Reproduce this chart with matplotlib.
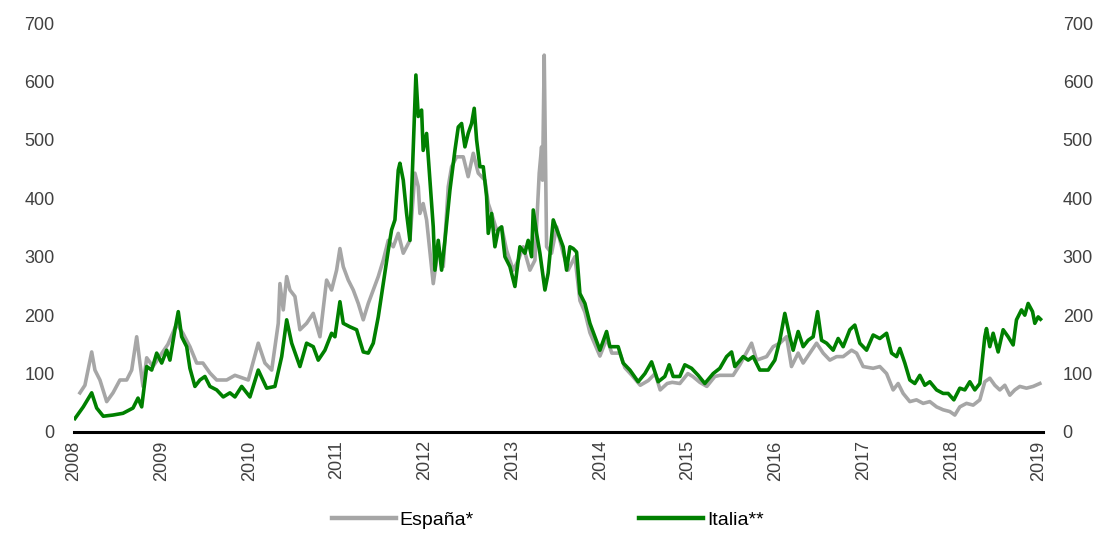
import matplotlib
matplotlib.use("Agg")
import matplotlib.pyplot as plt

# Spread data (bp); x in decimal years
espana_t = [2008.068, 2008.125, 2008.202, 2008.239, 2008.296, 2008.373, 2008.445, 2008.524,
            2008.601, 2008.658, 2008.715, 2008.752, 2008.787, 2008.829, 2008.900, 2008.980,
            2009.071, 2009.171, 2009.242, 2009.322, 2009.399, 2009.470, 2009.550, 2009.627,
            2009.741, 2009.835, 2009.987, 2010.101, 2010.177, 2010.254, 2010.329, 2010.348,
            2010.386, 2010.425, 2010.462, 2010.519, 2010.576, 2010.652, 2010.728, 2010.804,
            2010.880, 2010.937, 2010.994, 2011.032, 2011.070, 2011.127, 2011.184, 2011.241,
            2011.298, 2011.355, 2011.412, 2011.469, 2011.526, 2011.583, 2011.640, 2011.697,
            2011.754, 2011.830, 2011.887, 2011.925, 2011.944, 2011.981, 2012.020, 2012.096,
            2012.153, 2012.210, 2012.267, 2012.305, 2012.362, 2012.438, 2012.494, 2012.552,
            2012.609, 2012.685, 2012.723, 2012.761, 2012.818, 2012.875, 2012.932, 2013.008,
            2013.065, 2013.122, 2013.198, 2013.255, 2013.304, 2013.331, 2013.342, 2013.361,
            2013.388, 2013.445, 2013.502, 2013.577, 2013.634, 2013.711, 2013.768, 2013.825,
            2013.882, 2013.939, 2013.996, 2014.075, 2014.132, 2014.224, 2014.281, 2014.360,
            2014.456, 2014.547, 2014.626, 2014.683, 2014.763, 2014.820, 2014.907, 2014.998,
            2015.055, 2015.135, 2015.215, 2015.306, 2015.363, 2015.515, 2015.591, 2015.725,
            2015.782, 2015.896, 2015.971, 2016.047, 2016.124, 2016.180, 2016.256, 2016.313,
            2016.389, 2016.466, 2016.541, 2016.617, 2016.694, 2016.769, 2016.865, 2016.922,
            2016.997, 2017.111, 2017.187, 2017.264, 2017.339, 2017.396, 2017.453, 2017.529,
            2017.605, 2017.681, 2017.757, 2017.834, 2017.909, 2017.985, 2018.042, 2018.099,
            2018.175, 2018.251, 2018.327, 2018.384, 2018.441, 2018.498, 2018.555, 2018.612,
            2018.669, 2018.726, 2018.783, 2018.859, 2018.935, 2019.011]
espana_v = [67, 80, 137, 106, 89, 52, 67, 89,
            89, 106, 163, 118, 78, 127, 112, 130,
            150, 185, 169, 146, 118, 118, 101, 89,
            89, 97, 89, 152, 118, 106, 186, 254,
            209, 266, 243, 232, 175, 186, 203, 163,
            260, 243, 277, 314, 283, 260, 243, 220,
            192, 220, 243, 266, 294, 328, 317, 340,
            306, 328, 443, 420, 374, 391, 363, 254,
            317, 283, 420, 454, 471, 471, 437, 477,
            443, 431, 391, 374, 346, 351, 311, 277,
            294, 317, 277, 294, 443, 488, 431, 645,
            317, 306, 351, 306, 277, 300, 225, 205,
            170, 150, 130, 160, 135, 135, 110, 97,
            80, 88, 100, 72, 83, 85, 83, 100,
            95, 85, 78, 95, 97, 97, 115, 152,
            123, 129, 146, 152, 163, 112, 135, 118,
            135, 152, 135, 123, 129, 129, 140, 135,
            112, 109, 112, 100, 72, 83, 66, 52,
            55, 49, 52, 43, 38, 35, 29, 43,
            49, 46, 55, 86, 92, 80, 72, 80,
            63, 72, 78, 75, 78, 83]

italia_t = [2008.011, 2008.106, 2008.202, 2008.259, 2008.334, 2008.445, 2008.559, 2008.673,
            2008.730, 2008.772, 2008.829, 2008.886, 2008.943, 2009.000, 2009.057, 2009.094,
            2009.151, 2009.189, 2009.228, 2009.285, 2009.322, 2009.379, 2009.436, 2009.493,
            2009.550, 2009.627, 2009.702, 2009.778, 2009.835, 2009.912, 2010.006, 2010.101,
            2010.197, 2010.291, 2010.368, 2010.425, 2010.482, 2010.576, 2010.652, 2010.728,
            2010.785, 2010.861, 2010.937, 2010.975, 2011.032, 2011.070, 2011.146, 2011.222,
            2011.298, 2011.355, 2011.412, 2011.469, 2011.526, 2011.583, 2011.621, 2011.659,
            2011.697, 2011.716, 2011.754, 2011.792, 2011.830, 2011.868, 2011.898, 2011.925,
            2011.963, 2011.981, 2012.020, 2012.058, 2012.096, 2012.115, 2012.153, 2012.191,
            2012.229, 2012.286, 2012.343, 2012.381, 2012.419, 2012.457, 2012.494, 2012.533,
            2012.563, 2012.590, 2012.628, 2012.666, 2012.704, 2012.723, 2012.761, 2012.799,
            2012.837, 2012.875, 2012.913, 2012.970, 2013.027, 2013.084, 2013.141, 2013.178,
            2013.217, 2013.236, 2013.274, 2013.312, 2013.369, 2013.406, 2013.464, 2013.520,
            2013.577, 2013.616, 2013.654, 2013.691, 2013.730, 2013.768, 2013.825, 2013.882,
            2013.939, 2013.996, 2014.072, 2014.110, 2014.204, 2014.261, 2014.338, 2014.432,
            2014.509, 2014.585, 2014.660, 2014.736, 2014.786, 2014.831, 2014.907, 2014.964,
            2015.041, 2015.116, 2015.192, 2015.287, 2015.363, 2015.440, 2015.497, 2015.534,
            2015.629, 2015.686, 2015.743, 2015.819, 2015.914, 2015.990, 2016.047, 2016.104,
            2016.161, 2016.199, 2016.256, 2016.313, 2016.370, 2016.427, 2016.477, 2016.523,
            2016.580, 2016.655, 2016.712, 2016.769, 2016.845, 2016.902, 2016.959, 2017.036,
            2017.111, 2017.187, 2017.264, 2017.321, 2017.378, 2017.415, 2017.472, 2017.529,
            2017.586, 2017.643, 2017.700, 2017.757, 2017.834, 2017.909, 2017.966, 2018.031,
            2018.099, 2018.156, 2018.213, 2018.270, 2018.327, 2018.384, 2018.403, 2018.441,
            2018.479, 2018.536, 2018.593, 2018.650, 2018.707, 2018.745, 2018.802, 2018.840,
            2018.878, 2018.928, 2018.954, 2018.992, 2019.019]
italia_v = [23, 43, 67, 41, 27, 29, 32, 41,
            58, 43, 112, 106, 135, 118, 140, 123,
            175, 206, 163, 146, 109, 78, 89, 95,
            78, 72, 60, 67, 60, 78, 60, 106,
            75, 78, 129, 192, 152, 112, 152, 146,
            123, 140, 169, 163, 223, 186, 180, 175,
            137, 135, 152, 197, 254, 311, 346, 363,
            448, 460, 431, 374, 328, 488, 611, 540,
            551, 482, 511, 431, 351, 277, 328, 277,
            328, 414, 482, 522, 528, 488, 511, 528,
            554, 500, 454, 454, 403, 340, 374, 317,
            346, 351, 300, 283, 249, 317, 306, 328,
            300, 380, 340, 306, 243, 272, 363, 340,
            317, 277, 317, 314, 308, 237, 220, 186,
            163, 140, 172, 146, 146, 118, 106, 86,
            100, 120, 86, 95, 115, 95, 95, 115,
            109, 97, 83, 100, 109, 129, 137, 112,
            129, 123, 129, 106, 106, 123, 157, 203,
            163, 140, 172, 146, 157, 163, 206, 157,
            152, 140, 160, 146, 175, 183, 152, 140,
            166, 160, 169, 135, 129, 143, 118, 89,
            83, 97, 80, 86, 72, 66, 66, 55,
            75, 72, 86, 72, 83, 163, 177, 146,
            169, 137, 175, 163, 149, 192, 209, 200,
            220, 206, 186, 197, 193]

years = list(range(2008, 2020))
y_ticks = [0, 100, 200, 300, 400, 500, 600, 700]

plt.rcParams['font.family'] = ['Liberation Sans', 'DejaVu Sans']

fig = plt.figure(figsize=(11.09, 5.44), dpi=100)
ax = fig.add_axes([0.0667, 0.2059, 0.8740, 0.7518])

ax.plot(espana_t, espana_v, color='#a6a6a6', lw=2.6, label='España*')
ax.plot(italia_t, italia_v, color='#008000', lw=2.6, label='Italia**')

ax.set_xlim(2008, 2019.05)
ax.set_ylim(0, 700)
ax.set_xticks(years)
ax.set_xticklabels([str(y) for y in years], rotation=90, fontsize=13, color='#404040')
ax.set_yticks(y_ticks)
ax.set_yticklabels([str(v) for v in y_ticks], fontsize=13, color='#404040')
ax.tick_params(axis='both', length=0)
ax.tick_params(axis='y', pad=14)
ax.tick_params(axis='x', pad=6)

for s in ['top', 'right', 'left']:
    ax.spines[s].set_visible(False)
ax.spines['bottom'].set_linewidth(2.2)
ax.spines['bottom'].set_color('black')

# second axis on the right with the same scale
ax2 = ax.twinx()
ax2.set_ylim(0, 700)
ax2.set_yticks(y_ticks)
ax2.set_yticklabels([str(v) for v in y_ticks], fontsize=13, color='#404040')
ax2.tick_params(axis='y', length=0, pad=14)
for s in ['top', 'right', 'left', 'bottom']:
    ax2.spines[s].set_visible(False)

leg = fig.legend(loc='lower center', bbox_to_anchor=(0.494, -0.005), ncol=2, frameon=False,
                 handlelength=3.3, handletextpad=0.2, columnspacing=8.5,
                 prop={'family': 'Liberation Sans', 'size': 14})
for line in leg.get_lines():
    line.set_linewidth(3.2)

fig.savefig('out.png', dpi=100)
